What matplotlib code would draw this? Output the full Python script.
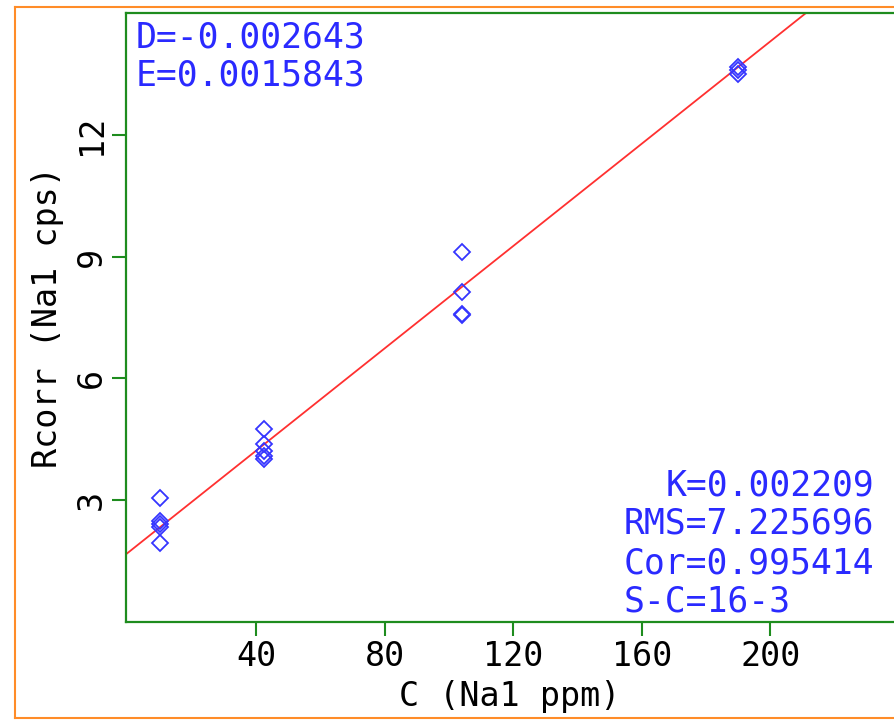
import numpy as np
import matplotlib
matplotlib.use("Agg")
import matplotlib.pyplot as plt
from matplotlib.lines import Line2D

# calibration points (C in ppm, Rcorr in cps)
conc = [10, 10, 10, 10, 10,
        42.5, 42.5, 42.5, 42.5, 42.5,
        104, 104, 104, 104,
        190, 190, 190]
rcorr = [3.05, 2.5, 2.42, 2.35, 1.95,
         4.75, 4.38, 4.22, 4.1, 4.02,
         9.12, 8.14, 7.58, 7.55,
         13.68, 13.6, 13.5]

# fitted line
fit_intercept = 1.7
fit_slope = 0.063

xticks = [40, 80, 120, 160, 200]
yticks = [3, 6, 9, 12]

top_lines = ["D=-0.002643", "E=0.0015843"]
bottom_lines = ["K=0.002209", "RMS=7.225696", "Cor=0.995414", "S-C=16-3"]

green = "#1e8c1e"
blue = "#2a2aff"
mono = "DejaVu Sans Mono"

W, H = 894, 721
fig = plt.figure(figsize=(W / 100, H / 100), dpi=100)

# orange frame round the chart
for xs, ys in [([15, 15], [7, 718]), ([15, W], [7, 7]), ([15, W], [718, 718])]:
    fig.add_artist(Line2D([x / W for x in xs], [1 - y / H for y in ys],
                          color="#ff8c28", lw=1.5, transform=fig.transFigure))

ax_l, ax_t, ax_b = 126, 13, 622
ax = fig.add_axes([ax_l / W, 1 - ax_b / H, (W - ax_l) / W, (ax_b - ax_t) / H])
ax.set_xlim(-0.5, 238.5)
ax.set_ylim(0, 15)

xx = np.array(ax.get_xlim())
ax.plot(xx, fit_intercept + fit_slope * xx, color="#ff3030", lw=1.3)
ax.plot(conc, rcorr, linestyle="none", marker="D", ms=8.5, mfc="none",
        mec="#3535ff", mew=1.3)

for s in ["left", "bottom", "top"]:
    ax.spines[s].set_color(green)
    ax.spines[s].set_linewidth(1.6)
ax.spines["right"].set_visible(False)

ax.set_xticks(xticks)
ax.set_yticks(yticks)
ax.set_yticklabels([str(v) for v in yticks], rotation=90, va="center")
ax.tick_params(direction="out", length=10, width=1.5, color=green,
               labelsize=24, labelcolor="black", pad=3)
for lab in ax.get_xticklabels() + ax.get_yticklabels():
    lab.set_family(mono)

ax.set_xlabel("C (Na1 ppm)", family=mono, fontsize=24, labelpad=5)
ax.set_ylabel("Rcorr (Na1 cps)", family=mono, fontsize=24, labelpad=8)

# fit results written inside the plot
fs = 25
for i, t in enumerate(top_lines):
    fig.text(136 / W, 1 - (37 + 38 * i) / H, t, color=blue, family=mono,
             fontsize=fs, ha="left", va="center")
adv = 0.602 * fs * 100 / 72
for i, t in enumerate(bottom_lines):
    x0 = 624 + (len(bottom_lines[1]) - len(t)) * adv if i == 0 else 624
    fig.text(x0 / W, 1 - (485 + 39 * i) / H, t, color=blue, family=mono,
             fontsize=fs, ha="left", va="center")

fig.savefig("out.png", dpi=100)
